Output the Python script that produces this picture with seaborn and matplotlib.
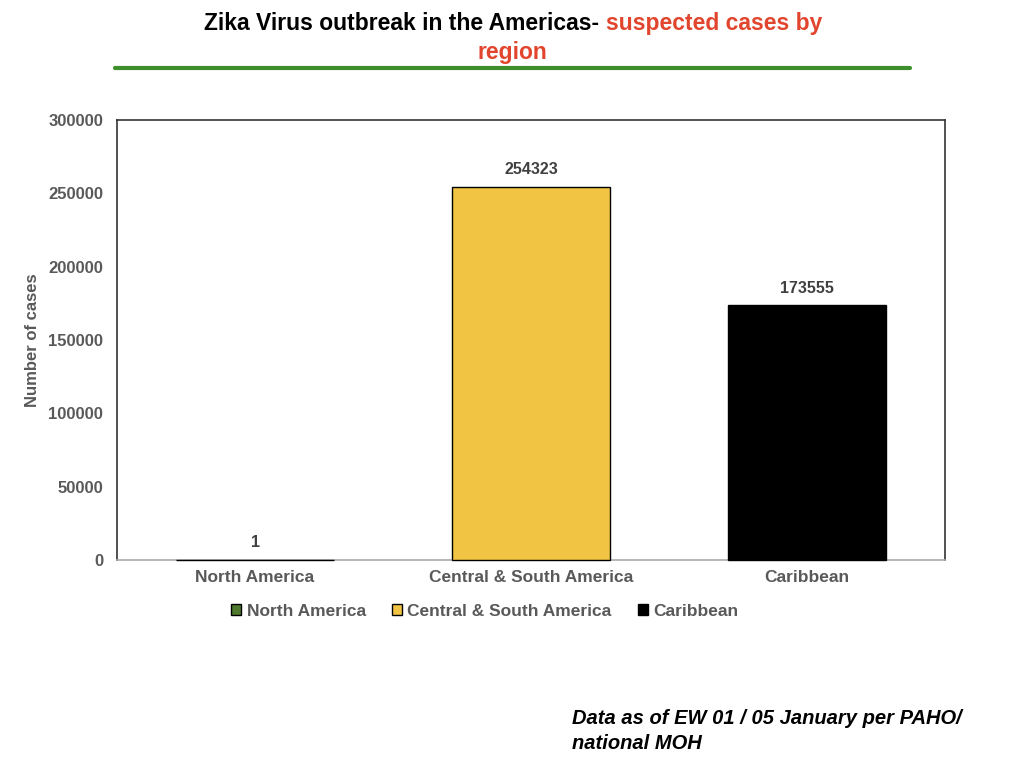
import matplotlib
matplotlib.use("Agg")
import matplotlib.pyplot as plt
import seaborn as sns
import pandas as pd
from matplotlib.lines import Line2D

regions = ["North America", "Central & South America", "Caribbean"]
cases = [1, 254323, 173555]
colors = ["#4f7a2e", "#f2c444", "#000000"]
yticks = [0, 50000, 100000, 150000, 200000, 250000, 300000]

sns.set_theme(style="white")
plt.rcParams["font.family"] = ["Liberation Sans", "DejaVu Sans"]

df = pd.DataFrame({"region": regions, "cases": cases})

fig = plt.figure(figsize=(10.24, 7.68), dpi=100)
ax = fig.add_axes([117/1024, 1-560/768, (945-117)/1024, (560-120)/768])

sns.barplot(data=df, x="region", y="cases", hue="region", palette=colors,
            saturation=1, edgecolor="black", linewidth=1, width=0.576, dodge=False,
            legend=True, ax=ax)
for p in ax.patches:
    p.set_zorder(3)
    p.set_clip_on(False)

gray = "#595959"
ax.set_xlim(-0.5, 2.5)
ax.set_ylim(0, 300000)
ax.set_yticks(yticks)
ax.set_yticklabels([str(v) for v in yticks], fontsize=12, fontweight="bold", color=gray)
ax.set_xticks(range(len(regions)))
ax.set_xticklabels(regions, fontsize=12.5, fontweight="bold", color=gray)
ax.tick_params(axis="y", length=0, pad=10)
ax.tick_params(axis="x", length=0, pad=7)
ax.set_xlabel("")
ax.set_ylabel("Number of cases", fontsize=12, fontweight="bold", color=gray, labelpad=6)
ax.grid(False)
for s in ["left", "top", "right"]:
    ax.spines[s].set_color("#333333")
    ax.spines[s].set_linewidth(1.2)
ax.spines["bottom"].set_color("#aaaaaa")
ax.spines["bottom"].set_linewidth(1.2)

for cont in ax.containers:
    ax.bar_label(cont, labels=[f"{int(v)}" for v in cont.datavalues], padding=7,
                 fontsize=11.5, fontweight="bold", color="#404040")

leg = ax.legend(loc="upper center", bbox_to_anchor=(0.444, -0.064), ncol=3, frameon=False,
                handlelength=0.6, handleheight=0.6, handletextpad=0.3, columnspacing=1.5,
                prop={"family": ["Liberation Sans"], "weight": "bold", "size": 12.5})
for t in leg.get_texts():
    t.set_color(gray)

# Title
fig.canvas.draw()
r = fig.canvas.get_renderer()
tfs = 16.5
t1 = fig.text(0, 1-30/768, "Zika Virus outbreak in the Americas-", fontsize=tfs,
              fontweight="bold", color="black", ha="left", va="baseline")
t2 = fig.text(0, 1-30/768, "suspected cases by", fontsize=tfs,
              fontweight="bold", color="#e2452e", ha="left", va="baseline")
w1 = t1.get_window_extent(r).width
w2 = t2.get_window_extent(r).width
gap = 7
start = 513 - (w1 + gap + w2) / 2
t1.set_x(start / 1024)
t2.set_x((start + w1 + gap) / 1024)
fig.text(512/1024, 1-59/768, "region", fontsize=tfs, fontweight="bold",
         color="#e2452e", ha="center", va="baseline")

fig.add_artist(Line2D([115/1024, 910/1024], [1-68/768, 1-68/768],
                      color="#3d8f2b", linewidth=3, transform=fig.transFigure))

fig.text(572/1024, 1-724/768, "Data as of EW 01 / 05 January per PAHO/", fontsize=14.5,
         fontweight="bold", style="italic", color="black", ha="left", va="baseline")
fig.text(572/1024, 1-749/768, "national MOH", fontsize=14.5,
         fontweight="bold", style="italic", color="black", ha="left", va="baseline")

fig.savefig("out.png", dpi=100)
